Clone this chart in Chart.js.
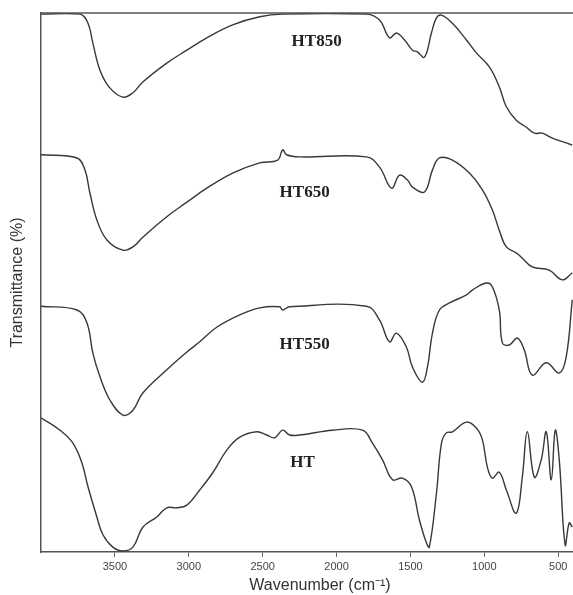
<!DOCTYPE html>
<html lang="en">
<head>
  <meta charset="UTF-8" />
  <title>FTIR spectra</title>
  <script src="https://cdn.jsdelivr.net/npm/chart.js"></script>
  <style>
    html, body {
      margin: 0;
      padding: 0;
      background: #fff;
    }
    .wrap {
      width: 573px;
      height: 595px;
      position: relative;
    }
  </style>
</head>
<body>
  <div class="wrap"><canvas id="ftir"></canvas></div>

  <script>
    // wavenumber (cm-1) and transmittance (arbitrary, offset per sample)
    const wnHT850 = [4000, 3736, 3682, 3649, 3601, 3534, 3446, 3378, 3311, 3149, 3013, 2878, 2703, 2520, 2365, 1797, 1709, 1642, 1595, 1540, 1486, 1453, 1405, 1358, 1324, 1290, 1216, 1121, 1054, 966, 899, 851, 784, 716, 662, 608, 540, 446, 405];
    const tHT850 = [99.8, 99.8, 98.1, 94.4, 89.4, 86.1, 84.4, 85.2, 87.2, 90.7, 93.1, 95.4, 97.8, 99.3, 99.8, 99.8, 98.7, 95.4, 96.3, 95.0, 93.1, 92.8, 91.8, 96.3, 99.1, 99.6, 98.1, 95.0, 92.6, 90.0, 86.3, 82.6, 80.1, 78.8, 77.7, 77.7, 76.8, 75.9, 75.5];

    const wnHT650 = [4000, 3757, 3703, 3669, 3622, 3554, 3446, 3378, 3311, 3149, 3013, 2878, 2703, 2520, 2399, 2365, 2338, 2250, 1797, 1709, 1628, 1574, 1520, 1486, 1405, 1351, 1304, 1216, 1101, 1013, 946, 899, 851, 784, 743, 676, 561, 473, 405];
    const tHT650 = [73.7, 73.1, 70.9, 66.6, 61.6, 57.9, 56.0, 56.6, 58.4, 62.2, 64.9, 67.5, 70.3, 72.2, 72.7, 74.6, 73.7, 73.3, 73.3, 71.4, 67.5, 69.9, 69.0, 67.7, 66.8, 70.9, 73.1, 72.7, 70.3, 67.2, 63.5, 59.7, 56.6, 55.5, 54.5, 52.9, 52.3, 50.5, 51.8];

    const wnHT550 = [4000, 3757, 3689, 3649, 3601, 3534, 3446, 3378, 3311, 3149, 3013, 2926, 2811, 2655, 2520, 2385, 2365, 2318, 1797, 1709, 1642, 1595, 1527, 1486, 1419, 1385, 1351, 1304, 1236, 1121, 1081, 986, 946, 899, 878, 831, 777, 730, 676, 581, 493, 446, 405];
    const tHT550 = [45.6, 44.9, 42.5, 36.9, 32.5, 28.2, 25.4, 26.3, 29.5, 33.8, 37.1, 39.0, 41.7, 44.0, 45.3, 45.5, 44.9, 45.5, 45.6, 43.0, 39.0, 40.6, 38.0, 34.3, 31.5, 34.3, 40.6, 44.9, 46.2, 47.7, 48.6, 49.9, 49.2, 44.9, 38.8, 38.4, 39.7, 37.5, 32.8, 35.1, 33.2, 36.2, 46.8];

    const wnHT = [4000, 3872, 3784, 3723, 3682, 3622, 3581, 3514, 3446, 3378, 3311, 3216, 3149, 3081, 3013, 2926, 2838, 2743, 2655, 2540, 2473, 2419, 2365, 2318, 2250, 2027, 1824, 1757, 1689, 1621, 1554, 1493, 1439, 1392, 1372, 1324, 1290, 1257, 1216, 1121, 1054, 1013, 980, 946, 899, 851, 784, 743, 709, 662, 615, 581, 547, 520, 493, 453, 426, 405];
    const tHT = [24.9, 22.6, 20.2, 16.5, 12.1, 6.5, 3.2, 0.9, 0.2, 0.9, 4.6, 6.5, 8.2, 8.2, 8.7, 11.5, 14.7, 18.9, 21.3, 22.3, 21.7, 21.2, 22.6, 21.7, 21.7, 22.6, 22.6, 20.2, 17.1, 13.4, 13.7, 12.1, 5.9, 1.7, 0.9, 10.9, 20.2, 22.1, 22.3, 24.1, 23.0, 20.8, 15.8, 13.7, 14.8, 11.5, 7.2, 13.9, 22.3, 13.9, 17.1, 22.3, 13.4, 22.6, 17.1, 1.3, 5.4, 4.6];

    const seriesNames = ['HT850', 'HT650', 'HT550', 'HT'];
    // where each sample name sits, in data units
    const labelWn = [2135, 2216, 2216, 2230];
    const labelT = [94.6, 66.6, 38.4, 16.5];

    const xTicks = [3500, 3000, 2500, 2000, 1500, 1000, 500];
    const xTitle = 'Wavenumber (cm\u207B\u00B9)';

    const spectra = [
      [wnHT850, tHT850],
      [wnHT650, tHT650],
      [wnHT550, tHT550],
      [wnHT, tHT]
    ];

    const sansFont = '"Liberation Sans", Arial, sans-serif';

    // top frame line, x title, sample names
    const frameLabels = {
      id: 'frameLabels',
      afterDatasetsDraw(chart) {
        const { ctx, chartArea: a, scales: { x, y } } = chart;
        ctx.save();
        ctx.strokeStyle = '#555';
        ctx.lineWidth = 1.5;
        ctx.beginPath();
        ctx.moveTo(a.left, a.top);
        ctx.lineTo(a.right, a.top);
        ctx.stroke();

        ctx.fillStyle = '#333';
        ctx.textAlign = 'center';
        ctx.textBaseline = 'middle';
        ctx.font = '16px ' + sansFont;
        // figure is cropped on the right, so the title sits a bit right of centre
        ctx.fillText(xTitle, (a.left + a.right) / 2 + 13, chart.height - 9);

        ctx.font = 'bold 17px "Liberation Serif", "Times New Roman", serif';
        ctx.fillStyle = '#222';
        seriesNames.forEach((name, i) => {
          ctx.fillText(name, x.getPixelForValue(labelWn[i]), y.getPixelForValue(labelT[i]));
        });
        ctx.restore();
      }
    };

    const ctx = document.getElementById('ftir').getContext('2d');
    new Chart(ctx, {
      type: 'line',
      data: {
        datasets: spectra.map(([wn, t], i) => ({
          label: seriesNames[i],
          data: wn.map((w, k) => ({ x: w, y: t[k] })),
          borderColor: '#383838',
          borderWidth: 1.4,
          pointRadius: 0,
          fill: false,
          tension: 0.4
        }))
      },
      options: {
        responsive: true,
        maintainAspectRatio: false,
        animation: false,
        layout: { padding: { top: 13, right: 0, left: 0, bottom: 0 } },
        plugins: {
          legend: { display: false },
          tooltip: { enabled: false }
        },
        scales: {
          x: {
            type: 'linear',
            reverse: true,
            min: 400,
            max: 4000,
            afterBuildTicks: scale => {
              scale.ticks = xTicks.map(v => ({ value: v }));
            },
            afterFit: scale => { scale.height = 43; },
            grid: {
              drawOnChartArea: false,
              drawTicks: true,
              tickLength: 5,
              color: '#666'
            },
            border: { display: true, color: '#555', width: 1.5 },
            ticks: {
              color: '#444',
              font: { family: sansFont, size: 11 },
              padding: 3,
              maxRotation: 0,
              autoSkip: false,
              callback: v => String(v)
            }
          },
          y: {
            min: 0,
            max: 100,
            afterFit: scale => { scale.width = 41; },
            grid: { display: false },
            border: { display: true, color: '#555', width: 1.5 },
            ticks: { display: false },
            title: {
              display: true,
              text: 'Transmittance (%)',
              color: '#333',
              font: { family: sansFont, size: 16 },
              padding: { top: 8, bottom: 0 }
            }
          }
        }
      },
      plugins: [frameLabels]
    });
  </script>
</body>
</html>
